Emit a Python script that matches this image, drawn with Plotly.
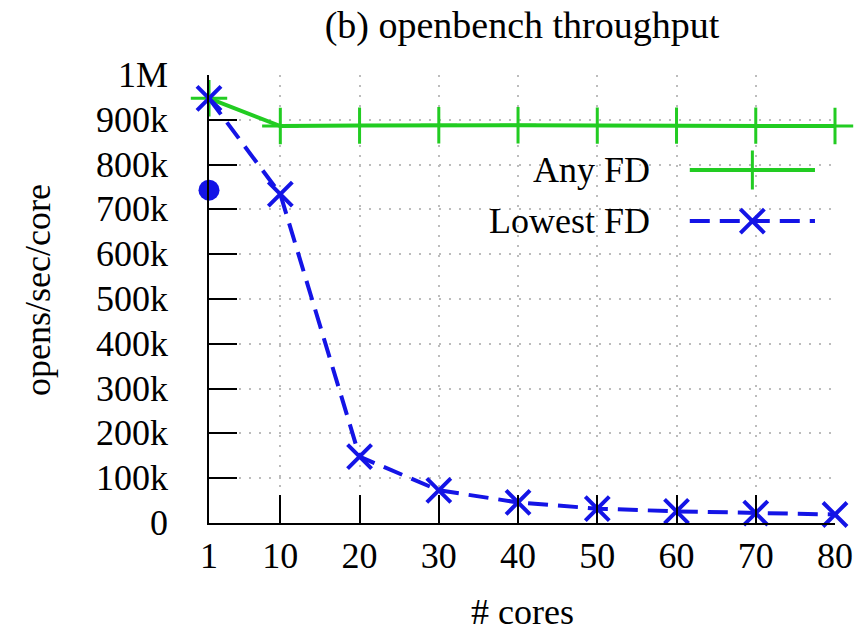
import plotly.graph_objects as go

cores = [1, 10, 20, 30, 40, 50, 60, 70, 80]
any_fd = [948000, 886000, 887000, 888000, 888000, 887000, 887000, 887000, 886000]
lowest_fd = [948000, 734000, 148000, 73000, 46000, 32000, 26000, 22000, 19000]
single_x = [1]
single_y = [743000]

x_ticks = [1, 10, 20, 30, 40, 50, 60, 70, 80]
y_ticks = [0, 100000, 200000, 300000, 400000, 500000, 600000, 700000, 800000, 900000, 1000000]
y_labels = ["0", "100k", "200k", "300k", "400k", "500k", "600k", "700k", "800k", "900k", "1M"]

GREEN = "#22cc22"
BLUE = "#1414e6"
FONT = "Liberation Serif"
FS = 36

fig = go.Figure()
fig.add_trace(go.Scatter(
    x=cores, y=any_fd, mode="lines+markers", name="Any FD",
    line=dict(color=GREEN, width=4),
    marker=dict(symbol="cross-thin", size=26, line=dict(color=GREEN, width=3)),
    cliponaxis=False))
fig.add_trace(go.Scatter(
    x=cores, y=lowest_fd, mode="lines+markers", name="Lowest FD",
    line=dict(color=BLUE, width=4, dash="20px,10px"),
    marker=dict(symbol="x-thin", size=24, line=dict(color=BLUE, width=4)),
    cliponaxis=False))
fig.add_trace(go.Scatter(
    x=single_x, y=single_y, mode="markers", showlegend=False,
    marker=dict(symbol="circle", size=21, color=BLUE), cliponaxis=False))

# manual legend (text left of sample), on an overlay axis with [0,1] range
leg_line_x = [0.768, 0.968]
leg_mark_x = [0.868]
leg_y_any = 0.788
leg_y_low = 0.674
fig.add_trace(go.Scatter(
    x=leg_line_x, y=[leg_y_any] * 2, xaxis="x2", yaxis="y2", mode="lines",
    line=dict(color=GREEN, width=4), showlegend=False, hoverinfo="skip"))
fig.add_trace(go.Scatter(
    x=leg_mark_x, y=[leg_y_any], xaxis="x2", yaxis="y2", mode="markers",
    marker=dict(symbol="cross-thin", size=28, color=GREEN, line=dict(color=GREEN, width=3)),
    showlegend=False, hoverinfo="skip"))
fig.add_trace(go.Scatter(
    x=leg_line_x, y=[leg_y_low] * 2, xaxis="x2", yaxis="y2", mode="lines",
    line=dict(color=BLUE, width=4, dash="20px,10px"), showlegend=False, hoverinfo="skip"))
fig.add_trace(go.Scatter(
    x=leg_mark_x, y=[leg_y_low], xaxis="x2", yaxis="y2", mode="markers",
    marker=dict(symbol="x-thin", size=24, color=BLUE, line=dict(color=BLUE, width=4)),
    showlegend=False, hoverinfo="skip"))

tf = dict(family=FONT, size=FS, color="black")
annotations = [
    dict(text="Any FD", x=0.708, y=leg_y_any, xref="paper", yref="paper",
         xanchor="right", yanchor="middle", showarrow=False, font=tf),
    dict(text="Lowest FD", x=0.708, y=leg_y_low, xref="paper", yref="paper",
         xanchor="right", yanchor="middle", showarrow=False, font=tf),
    dict(text="opens/sec/core", x=(38 - 209) / 626, y=(523 - 290) / 448,
         xref="paper", yref="paper", xanchor="center", yanchor="middle",
         showarrow=False, textangle=-90, font=tf),
    dict(text="# cores", x=0.5, y=-(612 - 523) / 448, xref="paper", yref="paper",
         xanchor="center", yanchor="middle", showarrow=False, font=tf),
]
# y tick labels placed further from the axis than plotly allows
for v, lab in zip(y_ticks, y_labels):
    annotations.append(dict(text=lab, x=(170 - 209) / 626, y=v, xref="paper", yref="y",
                            xanchor="right", yanchor="middle", showarrow=False, font=tf))

fig.update_layout(
    width=864, height=636,
    margin=dict(l=209, r=29, t=75, b=113),
    paper_bgcolor="white", plot_bgcolor="white",
    showlegend=False,
    font=tf,
    title=dict(text="(b) openbench throughput", x=522 / 864, xanchor="center",
               y=1 - 25 / 636, yanchor="middle", yref="container",
               font=dict(family=FONT, size=38, color="black")),
    xaxis=dict(range=[1, 80], tickmode="array", tickvals=x_ticks,
               ticktext=[str(v) for v in x_ticks],
               ticks="inside", ticklen=28, tickwidth=2, tickcolor="black",
               showline=True, linecolor="black", linewidth=2,
               showgrid=True, gridcolor="#bcbcbc", gridwidth=1.5, griddash="2px,8px",
               zeroline=False, tickfont=tf),
    yaxis=dict(range=[0, 1000000], tickmode="array", tickvals=y_ticks,
               showticklabels=False,
               ticks="inside", ticklen=28, tickwidth=2, tickcolor="black",
               showline=True, linecolor="black", linewidth=2,
               showgrid=True, gridcolor="#bcbcbc", gridwidth=1.5, griddash="2px,8px",
               zeroline=False),
    xaxis2=dict(range=[0, 1], overlaying="x", visible=False, fixedrange=True),
    yaxis2=dict(range=[0, 1], overlaying="y", visible=False, fixedrange=True),
    annotations=annotations,
)

fig.write_html("out.html")
